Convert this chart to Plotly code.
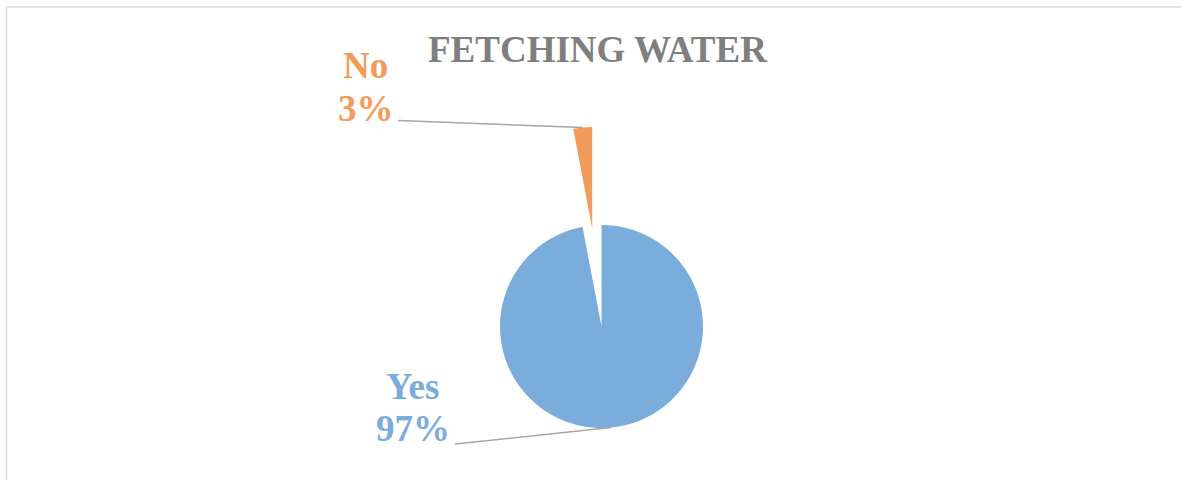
import math
import plotly.graph_objects as go

# ---- data ----
categories = ["Yes", "No"]
values = [97, 3]
title_text = "FETCHING WATER"

# ---- styles ----
W, H = 1181, 480
colors = ["#7AACDC", "#F39B5A"]
FONT = "Liberation Serif, Times New Roman, serif"
center = (601.5, 326.5)      # pixel centre of main pie
radius = 101.5               # pixel radius
pull = 0.97                  # explode fraction for the "No" slice
label_pos = {"Yes": (412.5, 386, 428), "No": (365.5, 66, 109)}  # x, y line1, y line2 (pixels)
line_start = {"Yes": (455, 444), "No": (398, 120.5)}

total = sum(values)
# slice angles (clockwise from 12 o'clock)
angles = []
acc = 0
for v in values:
    a0 = acc / total * 360
    acc += v
    a1 = acc / total * 360
    angles.append((a0, a1))


def dom(cx, cy, r):
    return dict(x=[(cx - r) / W, (cx + r) / W], y=[(H - cy - r) / H, (H - cy + r) / H])


fig = go.Figure()
centers = []
for i, cat in enumerate(categories):
    mid = math.radians((angles[i][0] + angles[i][1]) / 2)
    p = pull if cat == "No" else 0.0
    cx = center[0] + radius * p * math.sin(mid)
    cy = center[1] - radius * p * math.cos(mid)
    centers.append((cx, cy, mid))
    cols = [c if j == i else "rgba(0,0,0,0)" for j, c in enumerate(colors)]
    fig.add_trace(go.Pie(
        labels=categories, values=values, sort=False, direction="clockwise", rotation=0,
        marker=dict(colors=cols, line=dict(width=0)), textinfo="none",
        domain=dom(cx, cy, radius), showlegend=False, hoverinfo="label+percent",
    ))

shapes = [
    dict(type="line", xref="paper", yref="paper", x0=6.5 / W, x1=1, y0=(H - 7) / H, y1=(H - 7) / H,
         line=dict(color="#D9D9D9", width=1.5)),
    dict(type="line", xref="paper", yref="paper", x0=6.5 / W, x1=6.5 / W, y0=0, y1=(H - 7) / H,
         line=dict(color="#D9D9D9", width=1.5)),
]
annotations = [
    dict(text=f"<b>{title_text}</b>", x=597.5 / W, y=1 - 50 / H, xref="paper", yref="paper",
         xanchor="center", yanchor="middle", showarrow=False,
         font=dict(family=FONT, size=37, color="#7F7F7F")),
]
for i, cat in enumerate(categories):
    cx, cy, mid = centers[i]
    ex = cx + radius * math.sin(mid)
    ey = cy - radius * math.cos(mid)
    sx, sy = line_start[cat]
    shapes.append(dict(type="line", xref="paper", yref="paper", x0=sx / W, y0=1 - sy / H,
                       x1=ex / W, y1=1 - ey / H, line=dict(color="#A6A6A6", width=1.5)))
    pct = round(values[i] / total * 100)
    lx, ly1, ly2 = label_pos[cat]
    for txt, ly in ((cat, ly1), (f"{pct}%", ly2)):
        annotations.append(dict(text=f"<b>{txt}</b>", x=lx / W, y=1 - ly / H, xref="paper", yref="paper",
                                xanchor="center", yanchor="middle", showarrow=False,
                                font=dict(family=FONT, size=37, color=colors[i])))

fig.update_layout(
    width=W, height=H, margin=dict(l=0, r=0, t=0, b=0),
    paper_bgcolor="white", plot_bgcolor="white",
    shapes=shapes, annotations=annotations,
)
fig.write_html("out.html")
